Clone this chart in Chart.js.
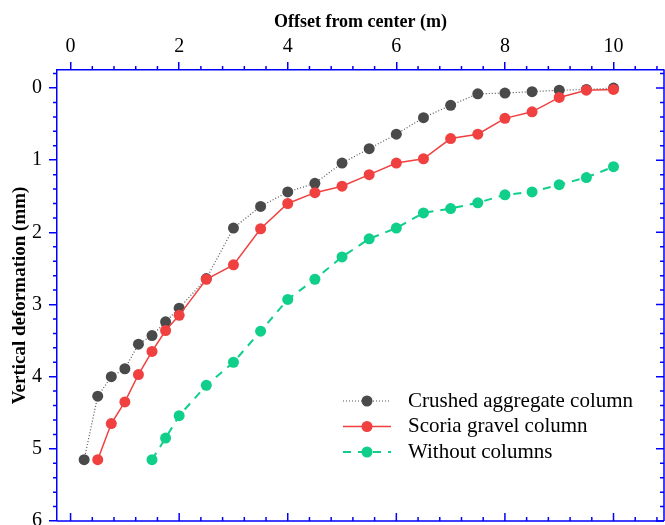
<!DOCTYPE html>
<html>
<head>
<meta charset="utf-8">
<title>Vertical deformation</title>
<script src="https://cdn.jsdelivr.net/npm/chart.js@4.4.1/dist/chart.umd.min.js"></script>
<style>
  html, body { margin: 0; padding: 0; background: #fff; }
  #grafico { display: block; }
</style>
</head>
<body>
<canvas id="grafico" width="665" height="525"></canvas>
<script>
// offsets (m) and settlements (mm) per test case
var offsetCrushed = [0.25, 0.5, 0.75, 1, 1.25, 1.5, 1.75, 2, 2.5, 3, 3.5, 4, 4.5, 5, 5.5, 6, 6.5, 7, 7.5, 8, 8.5, 9, 9.5, 10];
var crushed = [5.15, 4.27, 4.0, 3.89, 3.55, 3.43, 3.24, 3.05, 2.64, 1.94, 1.64, 1.44, 1.32, 1.04, 0.84, 0.64, 0.41, 0.24, 0.08, 0.07, 0.05, 0.03, 0.02, 0.0];

var offsetScoria = [0.5, 0.75, 1, 1.25, 1.5, 1.75, 2, 2.5, 3, 3.5, 4, 4.5, 5, 5.5, 6, 6.5, 7, 7.5, 8, 8.5, 9, 9.5, 10];
var scoria = [5.15, 4.65, 4.35, 3.97, 3.65, 3.36, 3.15, 2.65, 2.45, 1.95, 1.60, 1.45, 1.36, 1.20, 1.04, 0.98, 0.70, 0.64, 0.42, 0.33, 0.13, 0.03, 0.02];

var offsetWithout = [1.5, 1.75, 2, 2.5, 3, 3.5, 4, 4.5, 5, 5.5, 6, 6.5, 7, 7.5, 8, 8.5, 9, 9.5, 10];
var without = [5.15, 4.85, 4.54, 4.12, 3.80, 3.37, 2.93, 2.65, 2.34, 2.09, 1.94, 1.73, 1.67, 1.59, 1.48, 1.44, 1.34, 1.24, 1.09];

var seriesLabels = ['Crushed aggregate column', 'Scoria gravel column', 'Without columns'];
var xTicks = [0, 2, 4, 6, 8, 10];
var yTicks = [0, 1, 2, 3, 4, 5, 6];
var xMinorStep = 0.4;
var yMinorStep = 0.2;

var AZUL = '#0000ff';
var FONTE = "'Liberation Serif', 'Times New Roman', serif";

function pontos(xs, ys) {
    var lista = [];
    for (var i = 0; i < xs.length; i++) {
        lista.push({ x: xs[i], y: ys[i] });
    }
    return lista;
}

function fixarTicks(valores) {
    return function(scale) {
        scale.ticks = valores.map(function(v) { return { value: v }; });
    };
}

// minor ticks, bottom and right frame lines
var eixosPlugin = {
    id: 'eixos',
    afterDraw: function(chart) {
        var ctx = chart.ctx;
        var a = chart.chartArea;
        var sx = chart.scales.x;
        var sy = chart.scales.y;

        ctx.save();
        ctx.strokeStyle = AZUL;
        ctx.lineWidth = 1.5;

        ctx.beginPath();
        ctx.moveTo(a.left, a.bottom);
        ctx.lineTo(a.right, a.bottom);
        ctx.moveTo(a.right, a.top);
        ctx.lineTo(a.right, a.bottom);
        ctx.stroke();

        ctx.beginPath();
        var i, v, p, tam, major;
        for (i = 0; ; i++) {
            v = Math.round(i * xMinorStep * 10) / 10;
            if (v > sx.max) break;
            major = xTicks.indexOf(v) >= 0;
            p = sx.getPixelForValue(v);
            tam = major ? 8 : 4;
            if (!major) {
                ctx.moveTo(p, a.top);
                ctx.lineTo(p, a.top - tam);
            }
            ctx.moveTo(p, a.bottom);
            ctx.lineTo(p, a.bottom - tam);
        }
        for (i = -1; ; i++) {
            v = Math.round(i * yMinorStep * 10) / 10;
            if (v > sy.max) break;
            if (v < sy.min) continue;
            major = yTicks.indexOf(v) >= 0;
            p = sy.getPixelForValue(v);
            tam = major ? 8 : 4;
            if (!major) {
                ctx.moveTo(a.left, p);
                ctx.lineTo(a.left - tam, p);
            }
            ctx.moveTo(a.right, p);
            ctx.lineTo(a.right - tam, p);
        }
        ctx.stroke();
        ctx.restore();
    }
};

// legend inside the plot, lower right
var legendaPlugin = {
    id: 'legenda',
    afterDraw: function(chart) {
        var ctx = chart.ctx;
        var a = chart.chartArea;
        var x0 = a.left + 286;
        var y0 = a.top + 331;
        var passo = 25.5;

        ctx.save();
        chart.data.datasets.forEach(function(ds, i) {
            var y = y0 + i * passo;
            ctx.strokeStyle = ds.borderColor;
            ctx.lineWidth = ds.borderWidth;
            ctx.setLineDash(ds.borderDash || []);
            ctx.beginPath();
            ctx.moveTo(x0, y);
            ctx.lineTo(x0 + 48, y);
            ctx.stroke();
            ctx.setLineDash([]);

            ctx.fillStyle = ds.pointBackgroundColor;
            ctx.beginPath();
            ctx.arc(x0 + 24, y, ds.pointRadius, 0, Math.PI * 2);
            ctx.fill();

            ctx.fillStyle = '#000';
            ctx.font = '21px ' + FONTE;
            ctx.textBaseline = 'middle';
            ctx.textAlign = 'left';
            ctx.fillText(ds.label, x0 + 65, y);
        });
        ctx.restore();
    }
};

var grafico = new Chart(document.getElementById('grafico').getContext('2d'), {
    type: 'line',
    data: {
        datasets: [{
            label: seriesLabels[0],
            data: pontos(offsetCrushed, crushed),
            borderColor: '#555555',
            borderWidth: 1.2,
            borderDash: [1, 2],
            pointRadius: 5.5,
            pointBackgroundColor: '#4a4a4a',
            pointBorderWidth: 0,
            order: 1
        }, {
            label: seriesLabels[1],
            data: pontos(offsetScoria, scoria),
            borderColor: '#f04040',
            borderWidth: 1.5,
            pointRadius: 5.5,
            pointBackgroundColor: '#f04040',
            pointBorderWidth: 0,
            order: 0
        }, {
            label: seriesLabels[2],
            data: pontos(offsetWithout, without),
            borderColor: '#0fcf8a',
            borderWidth: 2,
            borderDash: [8, 7],
            pointRadius: 5.5,
            pointBackgroundColor: '#0fcf8a',
            pointBorderWidth: 0,
            order: 2
        }]
    },
    options: {
        responsive: false,
        animation: false,
        devicePixelRatio: 1,
        layout: { autoPadding: false, padding: { left: 0, top: 0, right: 1, bottom: 4 } },
        elements: { line: { tension: 0, fill: false } },
        plugins: {
            legend: { display: false },
            tooltip: { enabled: false }
        },
        scales: {
            x: {
                type: 'linear',
                position: 'top',
                min: -0.25,
                max: 10.93,
                afterBuildTicks: fixarTicks(xTicks),
                afterFit: function(s) {
                    s.height = 70;
                    s.paddingLeft = 0;
                    s.paddingRight = 0;
                },
                ticks: { color: '#000', padding: 3, font: { family: FONTE, size: 20 } },
                grid: { drawOnChartArea: false, tickLength: 8, color: AZUL, lineWidth: 1.5 },
                border: { color: AZUL, width: 1.5 },
                title: {
                    display: true,
                    text: 'Offset from center (m)',
                    color: '#000',
                    font: { family: FONTE, size: 18, weight: 'bold' },
                    padding: { top: 12, bottom: 0 }
                }
            },
            y: {
                type: 'linear',
                reverse: true,
                min: -0.25,
                max: 6,
                afterBuildTicks: fixarTicks(yTicks),
                afterFit: function(s) {
                    s.width = 57;
                    s.paddingTop = 0;
                    s.paddingBottom = 0;
                },
                ticks: { color: '#000', padding: 7, font: { family: FONTE, size: 20 } },
                grid: { drawOnChartArea: false, tickLength: 8, color: AZUL, lineWidth: 1.5 },
                border: { color: AZUL, width: 1.5 },
                title: {
                    display: true,
                    text: 'Vertical deformation (mm)',
                    color: '#000',
                    font: { family: FONTE, size: 19, weight: 'bold' },
                    padding: { top: 9, bottom: 0 }
                }
            }
        }
    },
    plugins: [eixosPlugin, legendaPlugin]
});
</script>
</body>
</html>
